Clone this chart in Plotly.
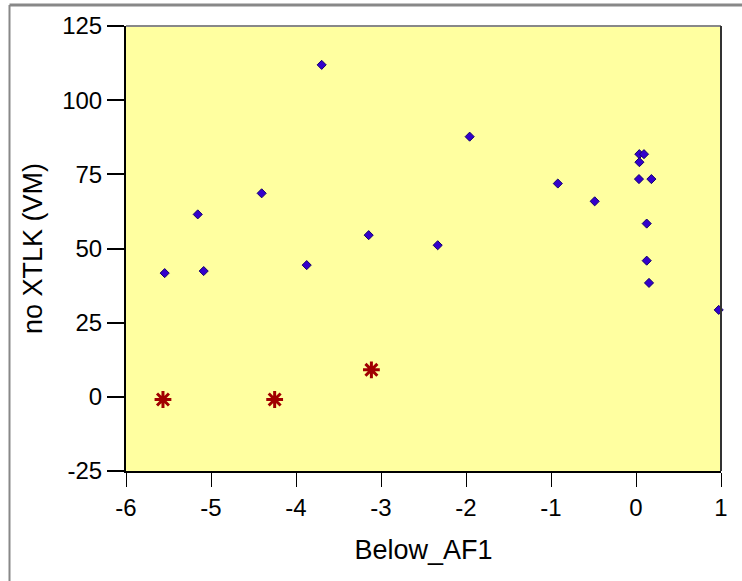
import plotly.graph_objects as go

# Blue diamond series
x_blue = [-5.545, -5.156, -5.086, -4.404, -3.874, -3.698, -3.145, -2.333, -1.957,
          -0.92, -0.486, 0.039, 0.094, 0.04, 0.035, 0.181, 0.126, 0.126, 0.153, 0.973]
y_blue = [41.7, 61.5, 42.4, 68.6, 44.4, 111.9, 54.5, 51.1, 87.7,
          71.9, 65.9, 81.8, 81.8, 79.1, 73.4, 73.4, 58.4, 45.9, 38.4, 29.3]

# Red asterisk series
x_red = [-5.565, -4.251, -3.113]
y_red = [-0.9, -0.9, 9.1]

x_ticks = [-6, -5, -4, -3, -2, -1, 0, 1]
x_ticktext = ["-6", "-5", "-4", "-3", "-2", "-1", "0", "1"]
y_ticks = [-25, 0, 25, 50, 75, 100, 125]
y_ticktext = ["-25", "0", "25", "50", "75", "100", "125"]

FONT = "Liberation Sans, Arial, sans-serif"

fig = go.Figure()
fig.add_trace(go.Scatter(
    x=x_blue, y=y_blue, mode="markers",
    marker=dict(symbol="diamond", size=7, color="#3300cc",
                line=dict(color="#14006e", width=1)),
    showlegend=False, cliponaxis=False))
fig.add_trace(go.Scatter(
    x=x_red, y=y_red, mode="markers",
    marker=dict(symbol="asterisk-open", size=14, color="#a00000",
                line=dict(color="#a00000", width=3)),
    showlegend=False))

fig.update_layout(
    width=742, height=581,
    margin=dict(l=126, r=21, t=24, b=110),
    paper_bgcolor="white", plot_bgcolor="#ffffa0",
    font=dict(family=FONT, size=23, color="black"),
    xaxis=dict(range=[-6, 1], tickvals=x_ticks, ticktext=x_ticktext,
               showgrid=False, zeroline=False, showline=True, linecolor="black",
               linewidth=2, ticks="outside", ticklen=14, tickwidth=1, tickcolor="black",
               title=dict(text="Below_AF1", font=dict(size=27), standoff=20),
               tickfont=dict(size=24)),
    yaxis=dict(range=[-25, 125], tickvals=y_ticks, ticktext=y_ticktext,
               showgrid=False, zeroline=False, showline=True, linecolor="black",
               linewidth=2, ticks="outside", ticklen=17, tickwidth=2, tickcolor="black",
               title=dict(text="no XTLK (VM)", font=dict(size=27), standoff=12),
               tickfont=dict(size=24)),
    shapes=[
        # plot area top (gray) and right (dark) borders
        dict(type="line", xref="paper", yref="paper", x0=0, x1=1, y0=1, y1=1,
             line=dict(color="#888888", width=2)),
        dict(type="line", xref="paper", yref="paper", x0=1, x1=1, y0=0, y1=1,
             line=dict(color="#333333", width=2)),
        # outer gray frame
        dict(type="line", xref="paper", yref="paper", x0=(9.5 - 126) / 595, x1=(9.5 - 126) / 595,
             y0=(470.7 - 581) / 446.7, y1=1 + (24 - 3) / 446.7,
             line=dict(color="#888888", width=2)),
        dict(type="line", xref="paper", yref="paper", x0=(9.5 - 126) / 595, x1=(742 - 126) / 595,
             y0=1 + (24 - 3) / 446.7, y1=1 + (24 - 3) / 446.7,
             line=dict(color="#888888", width=3)),
    ],
)

fig.write_html("out.html")
